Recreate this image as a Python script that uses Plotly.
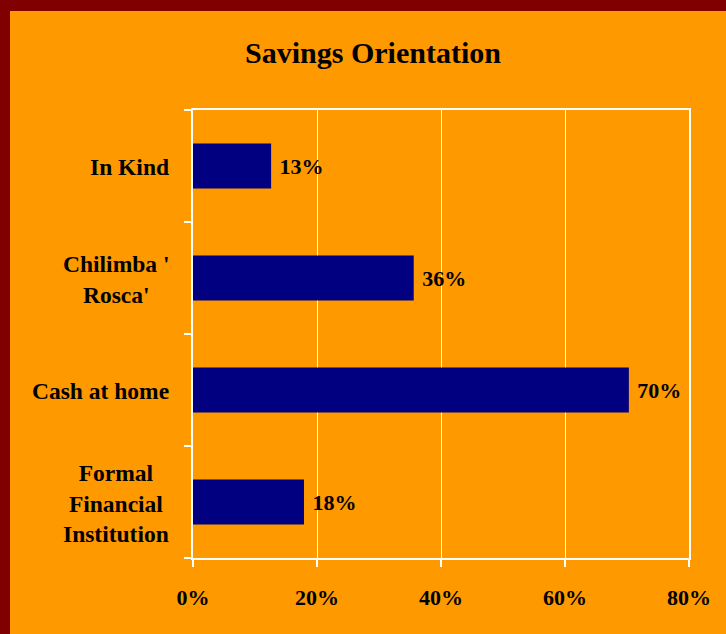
import plotly.graph_objects as go

categories = ["In Kind", "Chilimba '<br>Rosca'", "Cash at home", "Formal<br>Financial<br>Institution"]
values = [0.126, 0.356, 0.703, 0.179]
tick_vals = [0, 0.2, 0.4, 0.6, 0.8]
tick_text = ["0%", "20%", "40%", "60%", "80%"]
title_text = "Savings Orientation"

ORANGE = "#FF9900"
MAROON = "#800000"
NAVY = "#000080"
FONT = "Liberation Serif"

W, H = 726, 634
L, R, T, B = 193, 37, 110, 76
pw, ph = W - L - R, H - T - B

fig = go.Figure()
fig.add_trace(go.Bar(
    y=list(range(len(categories))),
    x=values,
    orientation="h",
    marker=dict(color=NAVY, line=dict(width=0)),
    text=[f" {round(v*100):.0f}%" for v in values],
    textposition="outside",
    constraintext="none",
    cliponaxis=False,
    textfont=dict(family=FONT, size=22, color="black", weight="bold"),
    hoverinfo="skip",
))

annotations = []
for i, c in enumerate(categories):
    annotations.append(dict(
        x=(171 - L) / pw, xref="paper", xanchor="right",
        y=i, yref="y", yanchor="middle", yshift=-1,
        text=f"<b>{c}</b>", align="center", showarrow=False,
        font=dict(family=FONT, size=23.5, color="black"),
    ))

shapes = [
    dict(type="rect", xref="paper", yref="paper", x0=-1, x1=(10 - L) / pw, y0=-1, y1=2,
         fillcolor=MAROON, line=dict(width=0), layer="below"),
    dict(type="rect", xref="paper", yref="paper", x0=-1, x1=2, y0=(H - B - 11) / ph, y1=2,
         fillcolor=MAROON, line=dict(width=0), layer="below"),
]

fig.update_layout(
    width=W, height=H,
    margin=dict(l=L, r=R, t=T, b=B, pad=0),
    paper_bgcolor=ORANGE, plot_bgcolor=ORANGE,
    bargap=0.6,
    showlegend=False,
    title=dict(text=f"<b>{title_text}</b>", x=373 / W, xref="container", xanchor="center",
               y=1 - 52 / H, yref="container", yanchor="middle",
               font=dict(family=FONT, size=30, color="black")),
    annotations=annotations,
    shapes=shapes,
    xaxis=dict(range=[0, 0.8], tickvals=tick_vals, ticktext=tick_text,
               showgrid=True, gridcolor="white", gridwidth=1,
               zeroline=False, showline=True, linecolor="white", linewidth=1.5, mirror=True,
               ticks="outside", ticklen=7, tickcolor="white", tickwidth=1.5,
               ticklabelstandoff=12,
               tickfont=dict(family=FONT, size=22, color="black", weight="bold")),
    yaxis=dict(range=[len(categories) - 0.5, -0.5], tickvals=[i - 0.5 for i in range(len(categories) + 1)],
               showticklabels=False, showgrid=False, zeroline=False,
               showline=True, linecolor="white", linewidth=1.5, mirror=True,
               ticks="outside", ticklen=7, tickcolor="white", tickwidth=1.5),
)

fig.write_html("out.html")
